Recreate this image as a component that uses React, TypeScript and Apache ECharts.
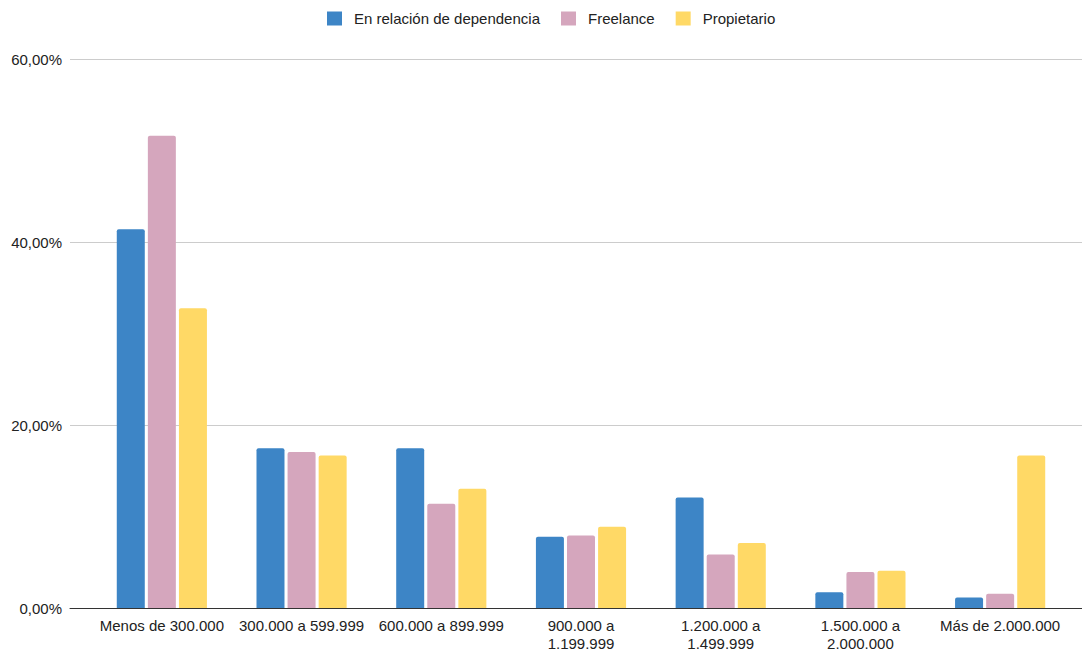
import React, { useEffect, useRef } from "react";
import * as echarts from "echarts";

const categories = [
  "Menos de 300.000",
  "300.000 a 599.999",
  "600.000 a 899.999",
  "900.000 a 1.199.999",
  "1.200.000 a 1.499.999",
  "1.500.000 a 2.000.000",
  "Más de 2.000.000",
];
const seriesNames = ["En relación de dependencia", "Freelance", "Propietario"];
const dependencia = [41.4, 17.47, 17.47, 7.78, 12.07, 1.71, 1.16];
const freelance = [51.6, 17.06, 11.39, 7.93, 5.85, 3.93, 1.56];
const propietario = [32.75, 16.66, 13.02, 8.88, 7.1, 4.07, 16.66];
const yTicks = [0, 20, 40, 60];
const colors = ["#3d85c6", "#d5a6bd", "#ffd966"];

const FONT = "'Liberation Sans', Arial, sans-serif";

export default function App() {
  const ref = useRef<HTMLDivElement>(null);
  useEffect(() => {
    if (!ref.current) return;
    const chart = echarts.init(ref.current, undefined, { renderer: "svg" });
    const values = [dependencia, freelance, propietario];
    const yMin = yTicks[0];
    const yMax = yTicks[yTicks.length - 1];
    const yStep = yTicks[1] - yTicks[0];
    chart.setOption({
      animation: false,
      textStyle: { fontFamily: FONT },
      legend: {
        top: 6,
        left: 322,
        itemWidth: 15,
        itemHeight: 14,
        itemGap: 21,
        icon: "rect",
        textStyle: { fontSize: 15, color: "#222", fontFamily: FONT, padding: [0, 0, 0, 7] },
        data: seriesNames,
      },
      grid: [
        { left: 70, right: 0, top: 59, bottom: 42, outerBoundsMode: "none", containLabel: false },
        { left: 92, right: 12, top: 59, bottom: 42, outerBoundsMode: "none", containLabel: false },
      ],
      xAxis: [
        {
          type: "category",
          gridIndex: 0,
          data: [""],
          axisLine: { show: true, lineStyle: { color: "#333", width: 1 } },
          axisTick: { show: false },
          axisLabel: { show: false },
          z: 5,
        },
        {
          type: "category",
          gridIndex: 1,
          data: categories,
          axisLine: { show: false },
          axisTick: { show: false },
          axisLabel: {
            fontSize: 15,
            color: "#222",
            fontFamily: FONT,
            margin: 8,
            lineHeight: 18,
            interval: 0,
            formatter: (v: string) => (v.length > 17 ? v.replace(" a ", " a\n") : v),
          },
        },
      ],
      yAxis: [
        {
          type: "value",
          gridIndex: 0,
          min: yMin,
          max: yMax,
          interval: yStep,
          axisLine: { show: false },
          axisTick: { show: false },
          splitLine: { lineStyle: { color: "#cccccc", width: 1 } },
          axisLabel: {
            fontSize: 15,
            color: "#222",
            fontFamily: FONT,
            margin: 8,
            formatter: (v: number) => v.toFixed(2).replace(".", ",") + "%",
          },
        },
        {
          type: "value",
          gridIndex: 1,
          min: yMin,
          max: yMax,
          interval: yStep,
          axisLine: { show: false },
          axisTick: { show: false },
          axisLabel: { show: false },
          splitLine: { show: false },
        },
      ],
      series: seriesNames.map((name, i) => ({
        name,
        type: "bar",
        xAxisIndex: 1,
        yAxisIndex: 1,
        data: values[i],
        barWidth: 28,
        barGap: "11%",
        itemStyle: { color: colors[i], borderRadius: [2, 2, 0, 0] },
      })),
    });
    return () => chart.dispose();
  }, []);
  return (
    <div
      ref={ref}
      style={{ position: "fixed", left: 0, top: 0, width: 1082, height: 650, background: "#fff" }}
    />
  );
}
